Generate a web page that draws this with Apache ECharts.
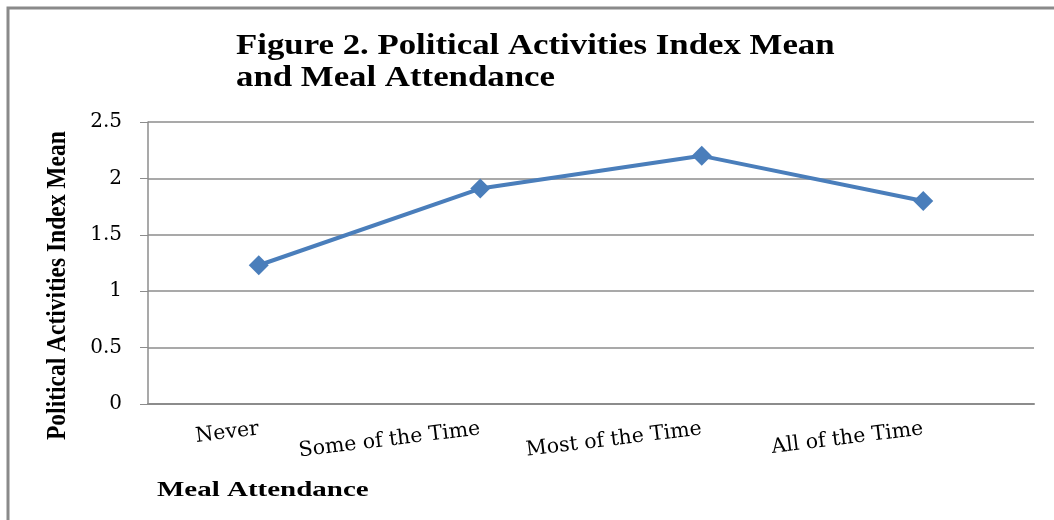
<!DOCTYPE html>
<html>
<head>
<meta charset="utf-8">
<script src="https://cdn.jsdelivr.net/npm/echarts@6/dist/echarts.min.js"></script>
<style>
  html, body { margin: 0; padding: 0; background: #fff; }
  #chart { width: 1054px; height: 520px; }
</style>
</head>
<body>
<div id="chart"></div>
<script>
// data
var categories = ['Never', 'Some of the Time', 'Most of the Time', 'All of the Time'];
var indexMean = [1.23, 1.91, 2.2, 1.8];
var yTicks = [0, 0.5, 1, 1.5, 2, 2.5];

var serif = '"Liberation Serif", "Times New Roman", serif';
var wideSerif = '"DejaVu Serif", "Liberation Serif", serif';

var chart = echarts.init(document.getElementById('chart'));
chart.setOption({
    backgroundColor: '#fff',
    graphic: [
        {
            type: 'rect',
            shape: { x: 8, y: 8, width: 1060, height: 530 },
            style: { fill: 'none', stroke: '#8a8a8a', lineWidth: 3 },
            z: -1
        },
        // title (the source text is stretched sideways)
        {
            type: 'text',
            x: 236,
            y: 30,
            scaleX: 1.16,
            style: {
                text: 'Figure 2. Political Activities Index Mean\nand Meal Attendance',
                font: 'bold 30px ' + serif,
                lineHeight: 32,
                fill: '#000'
            }
        },
        // y axis name
        {
            type: 'text',
            x: 44,
            y: 440,
            rotation: Math.PI / 2,
            scaleY: 1.15,
            style: {
                text: 'Political Activities Index Mean',
                font: 'bold 23.5px ' + serif,
                fill: '#000'
            }
        },
        // x axis name
        {
            type: 'text',
            x: 157,
            y: 480,
            scaleX: 1.38,
            style: {
                text: 'Meal Attendance',
                font: 'bold 21px ' + serif,
                fill: '#000'
            }
        }
    ],
    grid: {
        left: 148,
        right: 20,
        top: 122,
        bottom: 116
    },
    xAxis: {
        type: 'category',
        data: categories,
        boundaryGap: true,
        axisLine: { lineStyle: { color: '#8c8c8c', width: 2 } },
        axisTick: { show: false },
        axisLabel: {
            interval: 0,
            hideOverlap: false,
            rotate: 7,
            margin: 25,
            fontFamily: wideSerif,
            fontSize: 20.5,
            color: '#000'
        }
    },
    yAxis: {
        type: 'value',
        min: 0,
        max: 2.5,
        interval: 0.5,
        axisLine: { show: true, lineStyle: { color: '#8c8c8c', width: 1.5 } },
        axisTick: { show: true, length: 8, lineStyle: { color: '#8c8c8c' } },
        axisLabel: {
            margin: 26,
            fontFamily: wideSerif,
            fontSize: 20,
            color: '#000',
            formatter: function (v) { return String(v); }
        },
        splitLine: { lineStyle: { color: '#8c8c8c', width: 1.5 } }
    },
    series: [
        {
            name: 'Political Activities Index Mean',
            type: 'line',
            data: indexMean,
            symbol: 'diamond',
            symbolSize: 20,
            lineStyle: { color: '#4a7ebb', width: 4 },
            itemStyle: { color: '#4a7ebb' }
        }
    ]
});
</script>
</body>
</html>
